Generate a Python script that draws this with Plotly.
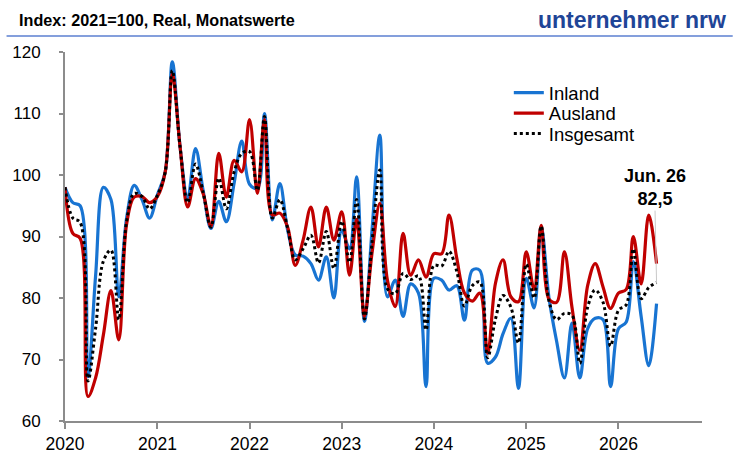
import pandas as pd
import plotly.graph_objects as go

months = pd.date_range("2020-01-01", periods=78, freq="MS")

inland = [
    98, 95.5, 95, 67.2, 83.5, 98, 96, 80.2, 93, 98.3, 96, 93,
    96.8, 100.5, 118.4, 104.5, 96.2, 104.3, 97.5, 91.3, 95.7, 92.4, 98.7, 105.5,
    98.5, 97.8, 110, 92.7, 98.6, 91, 87, 86.8, 85.6, 82.9, 86.7, 80,
    91, 88, 99.7, 76.2, 91, 106.5, 80.2, 82.9, 77, 82.3, 80.8, 65.6,
    83.2, 82.9, 81.3, 82, 76.4, 84.5, 84.5, 69.4, 70.4, 74.2, 76.7, 65.3,
    83.2, 78.4, 91.6, 80, 73, 67, 75.9, 67, 75, 76.7, 76.5, 65.6,
    75, 76.1, 85.9, 77, 69, 79.1,
]

ausland = [
    98, 90.5, 89.7, 64, 67, 74, 81.2, 73.2, 92, 96.4, 96.5, 95.5,
    96.5, 100.5, 116.5, 104.5, 94.8, 99.4, 97, 91.6, 103.5, 96.4, 102.4, 100.5,
    109, 97, 109, 93.5, 93.8, 91.5, 85.3, 89.4, 94.8, 88.3, 94.8, 89.4,
    94, 83.7, 92.8, 77, 87.3, 95.4, 82.9, 78.6, 90.5, 83.7, 86.2, 83.4,
    87.2, 87.2, 93.5, 86.4, 80.8, 79.5, 80.8, 71, 82.4, 86.2, 80.2, 79.4,
    87.5, 81.4, 91.8, 79.8, 79.3, 87.5, 78.5, 71.5, 82, 85.6, 81.8, 78.3,
    80.8, 81.4, 90, 82.3, 93.5, 85.6,
]

insgesamt = [
    98, 93, 92.3, 66.5, 75, 86, 87.8, 76.5, 92.5, 97, 96.5, 94.5,
    96.7, 100.5, 117, 104.5, 95.5, 101.8, 97.2, 91.5, 99.5, 94.5, 100.5, 103.5,
    103.8, 97.5, 109.5, 93, 96, 91.3, 86.2, 88, 90.2, 85.7, 90.8, 84.8,
    92.5, 85.8, 96, 76.6, 89, 100.8, 81.5, 80.7, 84, 83, 83.6, 74.8,
    85.3, 85.2, 87.6, 84.3, 78.7, 82, 82.6, 70.3, 76.6, 80.4, 78.5, 72.7,
    85.5, 80, 91.7, 79.5, 76.5, 77.5, 77.2, 69.4, 78.5, 81.3, 79.3, 72.2,
    78, 78.9, 88, 79.9, 81.7, 82.5,
]

year_ticks = ["2020", "2021", "2022", "2023", "2024", "2025", "2026"]
y_ticks = [60, 70, 80, 90, 100, 110, 120]

font_main = "Liberation Sans, Arial, Helvetica, sans-serif"

# plot area in pixels: x 59..702, y 52..421
L, R, T, B = 59, 702, 52, 421
PW, PH = R - L, B - T


def px_x(x):
    return (x - L) / PW


def px_y(y):
    return (B - y) / PH


fig = go.Figure()
fig.add_trace(go.Scatter(x=months, y=inland, name="Inland", mode="lines", legend="legend",
                         line=dict(color="#1874d2", width=3.2, shape="spline", smoothing=1)))
fig.add_trace(go.Scatter(x=months, y=ausland, name="Ausland", mode="lines", legend="legend2",
                         line=dict(color="#c00000", width=3.2, shape="spline", smoothing=1)))
fig.add_trace(go.Scatter(x=months, y=insgesamt, name="Insgesamt", mode="lines", legend="legend3",
                         line=dict(color="#000000", width=3, dash="3px,3px", shape="spline", smoothing=1)))

leg_common = dict(x=px_x(507), xanchor="left", yanchor="middle",
                  bgcolor="rgba(0,0,0,0)", font=dict(size=18.5, family=font_main),
                  itemwidth=30)

fig.update_layout(
    width=733, height=474,
    margin=dict(l=L, r=733 - R, t=T, b=474 - B),
    plot_bgcolor="white", paper_bgcolor="white",
    font=dict(family=font_main, size=17, color="black"),
    showlegend=True,
    legend=dict(y=px_y(93), **leg_common),
    legend2=dict(y=px_y(113.5), **leg_common),
    legend3=dict(y=px_y(134), **leg_common),
    xaxis=dict(
        type="date",
        range=["2020-01-01", "2026-11-28"],
        tickvals=[f"{y}-01-01" for y in year_ticks],
        ticktext=year_ticks,
        showline=True, linecolor="#8c8c8c", linewidth=2,
        ticks="outside", ticklen=6, tickwidth=2, tickcolor="#8c8c8c",
        showgrid=False, zeroline=False,
        tickfont=dict(size=17.5, family=font_main),
    ),
    yaxis=dict(
        range=[60, 120],
        tickvals=y_ticks,
        showline=True, linecolor="#8c8c8c", linewidth=2,
        ticks="outside", ticklen=4, tickwidth=2, tickcolor="#8c8c8c",
        showgrid=False, zeroline=False,
        tickfont=dict(size=17, family=font_main),
        ticklabelstandoff=15,
    ),
)

# header line
fig.add_shape(type="line", xref="paper", yref="paper",
              x0=px_x(0), x1=px_x(733), y0=px_y(36), y1=px_y(36),
              line=dict(color="#5b7fd0", width=1.7))

fig.add_annotation(xref="paper", yref="paper", x=px_x(11), y=px_y(20),
                   xanchor="left", yanchor="middle", showarrow=False,
                   text="<b>Index: 2021=100, Real, Monatswerte</b>",
                   font=dict(family=font_main, size=16.2, color="black"))
fig.add_annotation(xref="paper", yref="paper", x=px_x(728), y=px_y(20),
                   xanchor="right", yanchor="middle", showarrow=False,
                   text="<b>unternehmer nrw</b>",
                   font=dict(family=font_main, size=23, color="#1f4597"))

fig.add_annotation(x=months[-1], y=insgesamt[-1],
                   text="<b>Jun. 26<br>82,5</b>",
                   showarrow=True, arrowhead=0, arrowwidth=1, arrowcolor="#c8c8c8",
                   ax=-2, ay=-95,
                   font=dict(family=font_main, size=18, color="black"))

fig.write_html("out.html", config={"displayModeBar": False},
               post_script="document.body.style.margin='0';document.body.style.padding='0';")
